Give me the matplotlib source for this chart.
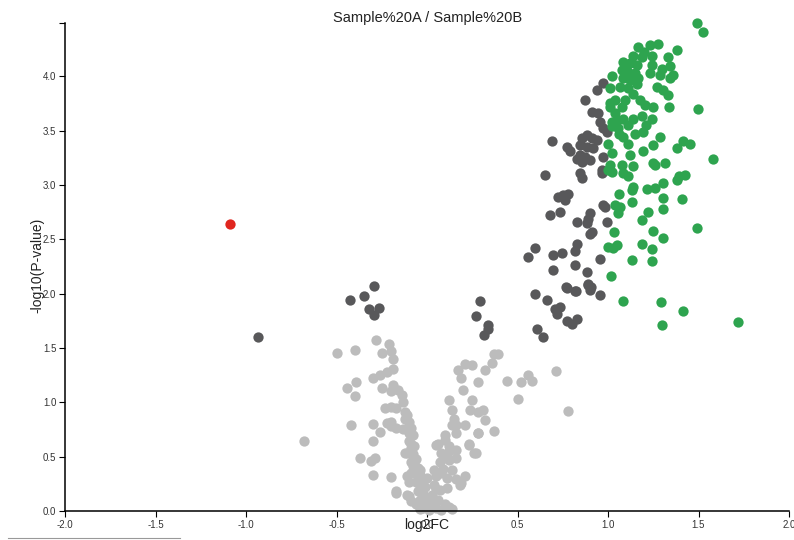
import matplotlib
matplotlib.use("Agg")
import matplotlib.pyplot as plt
from matplotlib.lines import Line2D

plt.rcParams['font.family'] = ['Liberation Sans', 'DejaVu Sans']

# 数据: log2FC / -log10(P-value)
# 不显著 (浅灰)
ns_x = [-0.68, -0.50, -0.40, -0.28, -0.21, -0.25, -0.20, -0.19, -0.39, -0.44, -0.40, -0.30, -0.26, -0.22,
        -0.19, -0.25, -0.20, -0.19, -0.16, -0.14, -0.23, -0.20, -0.17, -0.12, -0.12, -0.42, -0.30, -0.22,
        -0.20, -0.17, -0.13, -0.26, -0.10, -0.30, -0.10, -0.09, -0.12, -0.08, -0.37, -0.31, -0.29, -0.09,
        -0.08, 0.05, -0.30, -0.20, -0.11, -0.10, -0.05, -0.17, -0.10, -0.06, -0.02, 0.00,
        -0.17, -0.11, -0.09, -0.06, -0.02, 0.01, 0.05, 0.10, 0.12, -0.04, 0.02, 0.06, -0.05, -0.01,
        0.04, 0.07, 0.11, -0.06, 0.00, 0.05, 0.11, 0.16, 0.19, 0.21, -0.09, -0.04, 0.04, 0.09, 0.14,
        -0.07, 0.07, 0.12, 0.16, -0.11, 0.08, 0.12, 0.16, 0.06, 0.10, -0.09, -0.20, 0.14, 0.21, 0.16,
        0.28, 0.23, 0.27,
        0.37, 0.39, 0.36, 0.17, 0.21, 0.25, 0.32, 0.19, 0.28, 0.44, 0.52, 0.56, 0.58, 0.71, 0.20, 0.12,
        0.25, 0.50, 0.14, 0.15, 0.16, 0.24, 0.28, 0.31, 0.32, 0.37, 0.28, 0.78, 0.23, 0.26, 0.18,
        -0.13, -0.11, -0.10, -0.09, -0.08, -0.07, -0.06, -0.05, -0.04, -0.03, -0.03, 0.02, 0.03, 0.05,
        0.08, 0.10, 0.12, 0.10, 0.08, -0.04, 0.14]
ns_y = [0.64, 1.45, 1.48, 1.57, 1.54, 1.45, 1.47, 1.40, 1.19, 1.13, 1.06, 1.22, 1.25, 1.28,
        1.31, 1.13, 1.10, 1.16, 1.11, 1.07, 0.95, 0.96, 0.95, 0.91, 0.85, 0.79, 0.80, 0.81,
        0.78, 0.76, 0.75, 0.73, 0.72, 0.64, 0.64, 0.58, 0.53, 0.52, 0.49, 0.46, 0.49, 0.45,
        0.41, 0.61, 0.33, 0.31, 0.32, 0.27, 0.30, 0.17, 0.14, 0.07, 0.16, 0.10,
        0.18, 0.15, 0.09, 0.06, 0.03, 0.01, 0.03, 0.06, 0.04, 0.10, 0.12, 0.10, 0.18, 0.22,
        0.24, 0.19, 0.21, 0.27, 0.30, 0.32, 0.30, 0.29, 0.26, 0.32, 0.35, 0.38, 0.38, 0.39, 0.38,
        0.44, 0.45, 0.47, 0.49, 0.53, 0.53, 0.55, 0.56, 0.62, 0.65, 0.62, 0.82, 0.79, 0.79, 0.72,
        0.72, 0.62, 0.53,
        1.44, 1.44, 1.36, 1.30, 1.35, 1.34, 1.30, 1.22, 1.19, 1.20, 1.19, 1.25, 1.20, 1.29, 1.11, 1.02,
        1.02, 1.03, 0.93, 0.85, 0.79, 0.93, 0.91, 0.93, 0.84, 0.74, 0.72, 0.92, 0.61, 0.53, 0.24,
        1.00, 0.88, 0.82, 0.76, 0.70, 0.60, 0.48, 0.40, 0.33, 0.26, 0.20, 0.05, 0.15, 0.20,
        0.35, 0.50, 0.60, 0.70, 0.01, 0.02, 0.02]

# 仅P值显著 (深灰)
sig_x = [-0.935, -0.425, -0.346, -0.293, -0.32, -0.265, -0.293,
         0.293, 0.269, 0.335, 0.315, 0.339,
         0.597, 0.661, 0.707, 0.735, 0.716, 0.772, 0.80, 0.827, 0.606, 0.639, 0.768, 0.823, 0.888,
         0.905, 0.956,
         0.974, 0.941, 0.873, 0.91, 0.946, 0.956, 0.974, 0.993, 0.689, 0.772, 0.79, 0.855, 0.882,
         0.91, 0.937, 0.845, 0.882, 0.919, 0.845, 0.873, 0.90, 0.855, 0.827, 0.974, 0.965, 0.845,
         0.855, 0.652, 0.725, 0.753, 0.781, 0.762, 0.68, 0.735, 0.90, 0.891, 0.827, 0.882, 0.983,
         0.993, 0.90, 0.827, 0.818, 0.597, 0.56, 0.698, 0.744, 0.698, 0.818, 0.882, 0.956, 0.891,
         0.772, 0.818, 0.90, 0.965, 0.974, 0.91]
sig_y = [1.60, 1.94, 1.98, 2.07, 1.86, 1.87, 1.80,
         1.93, 1.79, 1.67, 1.62, 1.71,
         2.00, 1.94, 1.86, 1.88, 1.81, 1.75, 1.72, 1.77, 1.67, 1.60, 2.06, 2.02, 2.09,
         2.06, 1.99,
         3.94, 3.87, 3.78, 3.67, 3.66, 3.58, 3.52, 3.49, 3.40, 3.35, 3.31, 3.43, 3.46,
         3.43, 3.41, 3.37, 3.35, 3.34, 3.28, 3.26, 3.23, 3.21, 3.24, 3.26, 3.11, 3.11,
         3.06, 3.09, 2.89, 2.91, 2.92, 2.86, 2.72, 2.75, 2.74, 2.69, 2.66, 2.65, 2.80,
         2.66, 2.55, 2.46, 2.39, 2.42, 2.34, 2.36, 2.37, 2.22, 2.26, 2.20, 2.32, 2.08,
         2.05, 2.02, 2.03, 3.14, 2.82, 2.57]

# 上调 (绿色)
up_x = [1.49, 1.527, 1.167, 1.232, 1.278, 1.38, 1.14, 1.186, 1.241, 1.085, 1.12, 1.158, 1.333,
        1.076, 1.112, 1.149, 1.241, 1.297, 1.343, 1.232, 1.287, 1.361, 1.085, 1.12, 1.167, 1.02,
        1.343, 1.011, 1.066, 1.112, 1.14, 1.269, 1.306, 1.333, 1.039, 1.076, 1.011, 1.094, 1.177,
        1.204, 1.25, 1.337, 1.499, 1.039, 1.048, 1.085, 1.14, 1.186, 1.245, 1.02, 1.057, 1.112,
        1.149, 1.195, 1.287, 1.085, 1.002, 1.112, 1.25, 1.416, 1.453, 1.38, 1.195, 1.02, 1.12,
        1.582, 1.25, 1.315, 1.011, 1.076, 1.02, 1.112, 1.39, 1.425,
        1.085, 1.14, 1.26, 1.14, 1.131, 1.214, 1.26, 1.302, 1.383, 1.063, 1.039, 1.066, 1.057,
        1.131, 1.306, 1.302, 1.407, 1.223, 1.186, 1.035, 1.25, 1.302, 1.49, 1.002, 1.03, 1.048,
        1.186, 1.241, 1.135, 1.245, 1.015, 1.081, 1.291, 1.416, 1.30, 1.718,
        1.011, 1.02, 1.002, 1.10, 1.20, 1.16, 1.06, 1.21]
up_y = [4.49, 4.41, 4.27, 4.29, 4.30, 4.24, 4.19, 4.18, 4.19, 4.13, 4.12, 4.10, 4.18,
        4.06, 4.04, 4.03, 4.10, 4.07, 4.09, 4.03, 4.01, 4.01, 3.98, 3.97, 3.98, 4.00,
        3.98, 3.89, 3.90, 3.89, 3.84, 3.90, 3.87, 3.83, 3.78, 3.72, 3.72, 3.78, 3.78,
        3.74, 3.72, 3.72, 3.70, 3.66, 3.60, 3.61, 3.61, 3.63, 3.61, 3.54, 3.52, 3.55,
        3.47, 3.49, 3.44, 3.44, 3.38, 3.38, 3.37, 3.40, 3.38, 3.34, 3.31, 3.29, 3.28,
        3.24, 3.20, 3.20, 3.18, 3.18, 3.12, 3.08, 3.08, 3.09,
        3.11, 3.17, 3.18, 2.98, 2.95, 2.96, 2.97, 3.02, 3.05, 2.92, 2.82, 2.80, 2.74,
        2.84, 2.88, 2.78, 2.87, 2.75, 2.68, 2.57, 2.58, 2.51, 2.60, 2.43, 2.42, 2.45,
        2.46, 2.41, 2.31, 2.30, 2.16, 1.93, 1.92, 1.84, 1.71, 1.74,
        3.75, 3.58, 3.14, 4.08, 4.22, 3.93, 3.47, 3.55]

# 下调 (红色)
down_x = [-1.09]
down_y = [2.64]

title = "Sample%20A / Sample%20B"

fig = plt.figure(figsize=(7.94, 5.4), dpi=100)
ax = fig.add_axes([65 / 794, 29 / 540, 724 / 794, 488 / 540])

size = 55
ax.scatter(ns_x, ns_y, s=size, color="#bcbcbc", linewidths=0, zorder=2, clip_on=False)
ax.scatter(sig_x, sig_y, s=size, color="#58585a", linewidths=0, zorder=3, clip_on=False)
ax.scatter(up_x, up_y, s=size, color="#2ea44f", linewidths=0, zorder=4, clip_on=False)
ax.scatter(down_x, down_y, s=size, color="#e0261f", linewidths=0, zorder=5, clip_on=False)

ymax = 4.49
ax.set_xlim(-2.0, 2.0)
ax.set_ylim(0, ymax)
ax.set_xticks([-2.0, -1.5, -1.0, -0.5, 0.0, 0.5, 1.0, 1.5, 2.0])
ax.set_yticks([0.0, 0.5, 1.0, 1.5, 2.0, 2.5, 3.0, 3.5, 4.0])
ax.set_xticklabels(["-2.0", "-1.5", "-1.0", "-0.5", "0.0", "0.5", "1.0", "1.5", "2.0"])
ax.set_yticklabels(["0.0", "0.5", "1.0", "1.5", "2.0", "2.5", "3.0", "3.5", "4.0"])
ax.set_yticks([ymax], minor=True)  # d3 的外侧刻度
ax.tick_params(which="both", direction="out", length=4.3, width=0.8, color="black",
               labelsize=7, labelcolor="#333333", pad=2)

for side in ["top", "right"]:
    ax.spines[side].set_visible(False)
for side in ["left", "bottom"]:
    ax.spines[side].set_linewidth(1.1)
    ax.spines[side].set_color("black")

ax.set_xlabel("log2FC", fontsize=10, color="#222222")
ax.xaxis.set_label_coords(0.5, -0.014)
ax.set_ylabel("-log10(P-value)", fontsize=10, color="#222222")
ax.yaxis.set_label_coords(-0.029, 0.504)

ax.text(0.501, (511 - 18) / 488, title, transform=ax.transAxes, ha="center", va="center",
        fontsize=10.5, color="#222222")

# 左下角的灰线
fig.add_artist(Line2D([8 / 794, 180 / 794], [2 / 540, 2 / 540], color="#999999", linewidth=0.8))

fig.savefig("out.png", dpi=100, facecolor="white")
